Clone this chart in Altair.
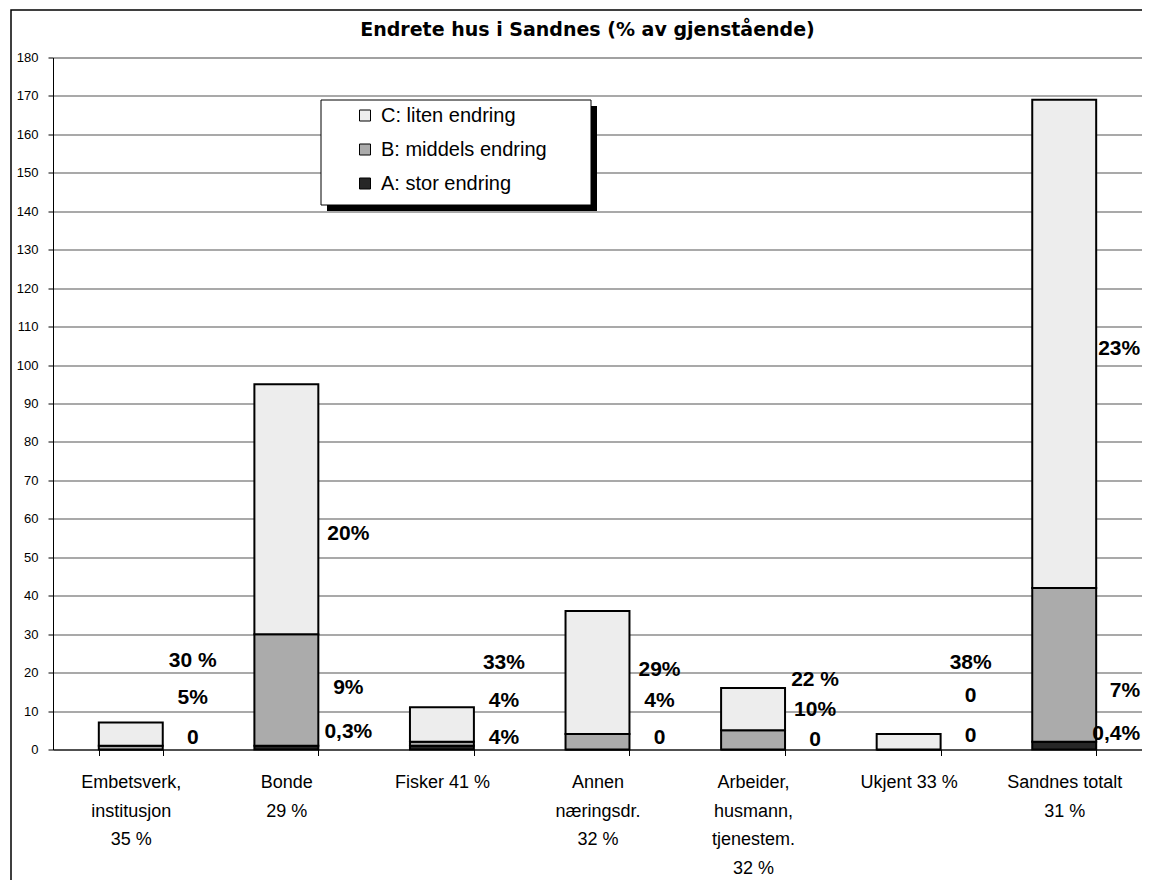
import altair as alt
import pandas as pd

# ---- data ----
categories = [
    "Embetsverk,|institusjon|35 %",
    "Bonde|29 %",
    "Fisker 41 %",
    "Annen|næringsdr.|32 %",
    "Arbeider,|husmann,|tjenestem.|32 %",
    "Ukjent 33 %",
    "Sandnes totalt|31 %",
]
series = ["C: liten endring", "B: middels endring", "A: stor endring"]
series_colors = ["#ededed", "#ababab", "#262626"]

a_values = [0, 1, 1, 0, 0, 0, 2]
b_values = [1, 29, 1, 4, 5, 0, 40]
c_values = [6, 65, 9, 32, 11, 4, 127]

c_labels = ["30 %", "20%", "33%", "29%", "22 %", "38%", "23%"]
b_labels = ["5%", "9%", "4%", "4%", "10%", "0", "7%"]
a_labels = ["0", "0,3%", "4%", "0", "0", "0", "0,4%"]
c_label_y = [23.0, 56.0, 22.6, 20.6, 18.0, 22.5, 104.1]
b_label_y = [13.3, 16.1, 12.6, 12.6, 10.2, 13.9, 15.2]
a_label_y = [2.9, 4.6, 3.1, 3.1, 2.4, 3.5, 4.0]

y_ticks = list(range(0, 181, 10))

# ---- tables built from the arrays ----
rows = []
for i, cat in enumerate(categories):
    rows.append({"category": cat, "series": series[2], "value": a_values[i], "order": 0})
    rows.append({"category": cat, "series": series[1], "value": b_values[i], "order": 1})
    rows.append({"category": cat, "series": series[0], "value": c_values[i], "order": 2})
bars_df = pd.DataFrame(rows)

lrows = []
for i, cat in enumerate(categories):
    last = i == len(categories) - 1
    lrows.append({"category": cat, "label": c_labels[i], "value": c_label_y[i], "edge": last})
    lrows.append({"category": cat, "label": b_labels[i], "value": b_label_y[i], "edge": last})
    lrows.append({"category": cat, "label": a_labels[i], "value": a_label_y[i], "edge": last})
labels_df = pd.DataFrame(lrows)

W, H = 1089, 692

x_axis = alt.Axis(
    title=None, labelExpr="split(datum.label, '|')", labelAngle=0,
    labelFont="Liberation Sans", labelFontSize=18, labelLineHeight=28.5,
    labelPadding=18, labelColor="black", labelOverlap=False, labelLimit=300,
    tickBand="extent", tickSize=6, tickColor="black", tickWidth=1,
    domainColor="black", domainWidth=1, grid=False,
)
x_scale = alt.Scale(paddingInner=0.589, paddingOuter=0.2945)

y_axis = alt.Axis(
    title=None, values=y_ticks, labelFont="Liberation Sans", labelFontSize=13,
    labelPadding=10, labelColor="black", tickSize=5, tickColor="black",
    domainColor="black", domainWidth=1, grid=True, gridColor="#555555", gridWidth=1.2,
)
y_scale = alt.Scale(domain=[0, 180], nice=False)

one = alt.Data(values=[{"k": 0}])

frame = alt.Chart(one).mark_rect(fill="transparent", stroke="black", strokeWidth=1.5).encode(
    x=alt.value(-42), x2=alt.value(1200), y=alt.value(-47.5), y2=alt.value(950)
)
shadow = alt.Chart(one).mark_rect(fill="black").encode(
    x=alt.value(274), x2=alt.value(544), y=alt.value(48.5), y2=alt.value(153.5)
)
box = alt.Chart(one).mark_rect(fill="white", stroke="black", strokeWidth=1).encode(
    x=alt.value(268), x2=alt.value(538), y=alt.value(42.5), y2=alt.value(147.5)
)

bars = alt.Chart(bars_df).mark_bar(stroke="black", strokeWidth=2).encode(
    x=alt.X("category:N", sort=categories, scale=x_scale, axis=x_axis),
    y=alt.Y("value:Q", stack="zero", scale=y_scale, axis=y_axis),
    color=alt.Color(
        "series:N",
        scale=alt.Scale(domain=series, range=series_colors),
        sort=series,
        legend=alt.Legend(
            title=None, orient="none", legendX=302, legendY=48,
            labelFont="Liberation Sans", labelFontSize=20, labelColor="black",
            labelOffset=6, labelLimit=400, rowPadding=14, symbolType="square",
            symbolSize=121, symbolStrokeColor="black", symbolStrokeWidth=1, padding=0,
        ),
    ),
    order=alt.Order("order:Q", sort="ascending"),
)

text_enc = dict(
    x=alt.X("category:N", sort=categories, scale=x_scale, axis=x_axis),
    y=alt.Y("value:Q", stack=None, scale=y_scale, axis=y_axis),
    text="label:N",
)

texts = alt.Chart(labels_df).transform_filter("!datum.edge").mark_text(
    font="Liberation Sans", fontSize=21, fontWeight="bold", color="black",
    dx=62, align="center", baseline="middle",
).encode(**text_enc)

texts_edge = alt.Chart(labels_df).transform_filter("datum.edge").mark_text(
    font="Liberation Sans", fontSize=21, fontWeight="bold", color="black",
    dx=76, align="right", baseline="middle",
).encode(**text_enc)

chart = alt.layer(frame, shadow, box, bars, texts, texts_edge).properties(
    width=W, height=H,
    padding={"left": 45, "top": 49.5, "right": 0, "bottom": 130},
    autosize=alt.AutoSizeParams(type="none"),
    title=alt.TitleParams(
        "Endrete hus i Sandnes (% av gjenstående)", font="DejaVu Sans", fontSize=19,
        fontWeight="bold", color="black", anchor="middle", frame="group", dx=-10,
        offset=-46, baseline="alphabetic",
    ),
).configure_view(fill="#c0c0c0", stroke="#808080", strokeWidth=2).configure(background="white")

chart.save("out.html", embed_options={"renderer": "svg", "actions": False})
